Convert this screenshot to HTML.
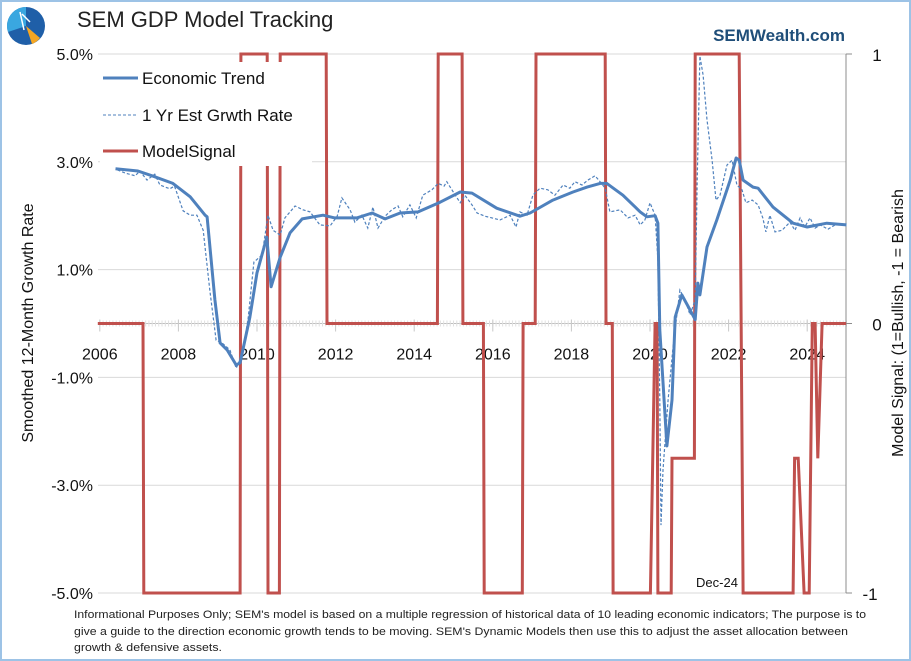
<!DOCTYPE html>
<html><head><meta charset="utf-8"><style>
html,body{margin:0;padding:0;background:#fff;}
svg{display:block;font-family:"Liberation Sans",sans-serif;}
</style></head><body>
<svg id="chart" width="911" height="661" viewBox="0 0 911 661" xmlns="http://www.w3.org/2000/svg">
<rect x="1" y="1" width="909" height="659" fill="#fff" stroke="#9dc3e6" stroke-width="2"/>
<g>
<circle cx="26" cy="26" r="19" fill="#1f5fa8"/>
<path d="M26 26 L26 7 A19 19 0 0 0 8 32 Z" fill="#3aa7e0"/>
<path d="M26 26 L40 38 A19 19 0 0 1 32 44 Z" fill="#f5a623"/>
<path d="M20 12 L24 30 M22 14 L30 22" stroke="#fff" stroke-width="1.5" fill="none"/>
</g>
<text x="77" y="27" font-size="22" fill="#222">SEM GDP Model Tracking</text>
<text x="845" y="41" font-size="17" font-weight="bold" fill="#1f4e79" text-anchor="end">SEMWealth.com</text>
<g id="grid"></g>
<g id="axes"></g>
<g id="series"></g>
<rect x="100" y="62" width="212" height="104" fill="#fff"/>
<g>
<line x1="103" y1="78" x2="138" y2="78" stroke="#4f81bd" stroke-width="3"/>
<text x="142" y="84" font-size="17" fill="#111">Economic Trend</text></g>
<g>
<line x1="103" y1="115" x2="138" y2="115" stroke="#4f81bd" stroke-width="1" stroke-dasharray="3,2"/>
<text x="142" y="121" font-size="17" fill="#111">1 Yr Est Grwth Rate</text></g>
<g>
<line x1="103" y1="151" x2="138" y2="151" stroke="#c0504d" stroke-width="3"/>
<text x="142" y="157" font-size="17" fill="#111">ModelSignal</text></g>
<text transform="translate(33,323) rotate(-90)" font-size="16" text-anchor="middle" fill="#111">Smoothed 12-Month Growth Rate</text>
<text transform="translate(903,323) rotate(-90)" font-size="16" text-anchor="middle" fill="#111">Model Signal: (1=Bullish, -1 = Bearish</text>
<text x="717" y="587" font-size="13" text-anchor="middle" fill="#111">Dec-24</text>
<g font-size="11" fill="#222">
<text x="74" y="618" textLength="792" lengthAdjust="spacingAndGlyphs">Informational Purposes Only; SEM's model is based on a multiple regression of historical data of 10 leading economic indicators; The purpose is to</text>
<text x="74" y="635" textLength="774" lengthAdjust="spacingAndGlyphs">give a guide to the direction economic growth tends to be moving. SEM's Dynamic Models then use this to adjust the asset allocation between</text>
<text x="74" y="651" textLength="148" lengthAdjust="spacingAndGlyphs">growth &amp; defensive assets.</text>
</g>
</svg>
<script>
const yTicks=[5,3,1,-1,-3,-5];
const yTickLabels=["5.0%","3.0%","1.0%","-1.0%","-3.0%","-5.0%"];
const xYears=[2006,2008,2010,2012,2014,2016,2018,2020,2022,2024];
const rTicks=[1,0,-1];
const trendT=[2006.4,2006.97,2007.33,2007.86,2008.3,2008.68,2008.73,2008.93,2009.06,2009.24,2009.47,2009.57,2009.82,2010.0,2010.25,2010.36,2010.59,2010.84,2011.15,2011.68,2011.98,2012.54,2012.93,2013.26,2013.64,2014.1,2014.66,2015.17,2015.47,2016.1,2016.69,2016.95,2017.53,2018.04,2018.4,2018.73,2018.9,2019.31,2019.75,2019.92,2020.13,2020.2,2020.25,2020.43,2020.56,2020.64,2020.81,2021.02,2021.15,2021.22,2021.27,2021.45,2021.7,2022.04,2022.19,2022.27,2022.37,2022.62,2022.75,2023.13,2023.64,2024.0,2024.5,2025.0];
const trendV=[2.87,2.83,2.74,2.6,2.35,2.01,1.98,0.44,-0.36,-0.49,-0.77,-0.73,0.12,0.94,1.6,0.68,1.23,1.68,1.94,2.01,1.96,1.96,2.05,1.94,2.05,2.07,2.25,2.44,2.42,2.14,1.99,2.05,2.29,2.44,2.53,2.6,2.6,2.38,2.07,1.98,2.0,1.86,-0.12,-2.27,-1.42,0.12,0.53,0.25,0.07,0.75,0.53,1.42,1.92,2.66,3.07,3.03,2.66,2.53,2.51,2.16,1.86,1.79,1.86,1.83];
const estT=[2006.45,2006.65,2006.9,2007.02,2007.2,2007.4,2007.53,2007.78,2007.9,2008.12,2008.3,2008.47,2008.63,2008.8,2008.96,2009.11,2009.31,2009.47,2009.62,2009.77,2009.92,2010.13,2010.28,2010.41,2010.59,2010.71,2010.97,2011.17,2011.35,2011.6,2011.86,2012.04,2012.16,2012.37,2012.49,2012.67,2012.82,2012.95,2013.08,2013.26,2013.43,2013.59,2013.71,2013.89,2014.05,2014.22,2014.45,2014.61,2014.76,2014.83,2014.96,2015.17,2015.29,2015.47,2015.6,2015.8,2015.98,2016.18,2016.44,2016.59,2016.69,2016.87,2017.02,2017.2,2017.4,2017.58,2017.79,2017.96,2018.09,2018.27,2018.42,2018.6,2018.73,2018.86,2018.98,2019.24,2019.44,2019.62,2019.75,2019.87,2020.0,2020.13,2020.2,2020.25,2020.28,2020.33,2020.46,2020.59,2020.76,2020.89,2021.02,2021.15,2021.2,2021.27,2021.35,2021.45,2021.58,2021.68,2021.78,2021.96,2022.09,2022.21,2022.34,2022.44,2022.6,2022.75,2022.87,2022.95,2023.05,2023.18,2023.36,2023.56,2023.69,2023.82,2023.94,2024.07,2024.2,2024.33,2024.53,2024.71,2025.0];
const estV=[2.85,2.79,2.74,2.83,2.66,2.77,2.57,2.5,2.55,2.09,2.01,2.01,1.73,0.62,-0.31,-0.36,-0.49,-0.83,-0.58,0.07,1.14,1.27,2.01,1.73,1.64,1.96,2.18,2.11,2.07,1.83,1.81,1.99,2.33,2.11,1.88,2.01,1.77,2.16,1.77,1.99,2.11,2.18,1.98,2.2,1.96,2.38,2.48,2.6,2.55,2.63,2.48,2.24,2.38,2.2,2.05,1.99,1.96,1.92,2.01,1.79,2.07,2.01,2.38,2.51,2.48,2.38,2.57,2.51,2.63,2.57,2.66,2.74,2.63,2.51,2.07,2.11,1.96,2.01,1.83,1.92,2.24,2.01,1.18,-1.42,-3.74,-2.72,-1.42,-0.4,0.62,0.44,0.16,0.44,2.66,4.96,4.61,3.78,3.03,2.29,2.38,2.94,3.03,2.57,2.48,2.24,2.29,2.2,1.96,1.7,2.01,1.7,1.73,1.88,1.73,1.96,1.79,1.96,1.77,1.83,1.75,1.83,1.83];
const sigT=[2005.95,2007.1,2007.12,2009.57,2009.59,2010.26,2010.28,2010.57,2010.59,2011.76,2011.78,2014.59,2014.61,2015.22,2015.24,2015.76,2015.78,2016.75,2016.77,2017.08,2017.1,2018.86,2018.88,2019.04,2019.06,2020.01,2020.13,2020.18,2020.2,2020.54,2020.56,2021.13,2021.15,2022.27,2022.37,2023.64,2023.68,2023.77,2023.92,2024.05,2024.13,2024.2,2024.27,2024.38,2024.99];
const sigV=[0,0,-1,-1,1,1,-1,-1,1,1,0,0,1,1,0,0,-1,-1,0,0,1,1,0,0,-1,-1,0,0,-1,-1,-0.5,-0.5,1,1,-1,-1,-0.5,-0.5,-1,-1,0,0,-0.5,0,0];

const X0=98,X1=846,Y5=54,YM5=593;
function x(t){return 257+(t-2010)*39.3;}
function y(v){return Y5+(5-v)*(YM5-Y5)/10;}
function yr(s){return Y5+(1-s)*(YM5-Y5)/2;}
const NS="http://www.w3.org/2000/svg";
function mk(tag,attrs,parent){const e=document.createElementNS(NS,tag);for(const k in attrs)e.setAttribute(k,attrs[k]);parent.appendChild(e);return e;}
const grid=document.getElementById('grid'),axes=document.getElementById('axes'),series=document.getElementById('series');
yTicks.forEach((v,i)=>{
  const l=mk('line',{x1:X0,x2:X1,y1:y(v),y2:y(v),stroke:'#d9d9d9','stroke-width':1},grid);
  
  
  const t=mk('text',{x:93,y:y(v)+6,'font-size':16,'text-anchor':'end',fill:'#111'},axes);
  t.textContent=yTickLabels[i];
  
  
});
const za=mk('line',{x1:X0,x2:X1,y1:y(0),y2:y(0),stroke:'#bfbfbf','stroke-width':1},axes);


for(let t=2006;t<2025;t+=1/12){
  const m=mk('line',{x1:x(t),x2:x(t),y1:y(0)-3,y2:y(0)+3,stroke:'#e0e0e0','stroke-width':1},axes);
  
  
}
xYears.forEach(yy=>{
  const m=mk('line',{x1:x(yy),x2:x(yy),y1:y(0)-4,y2:y(0)+8,stroke:'#c8c8c8','stroke-width':1},axes);
  
  
  const t=mk('text',{x:x(yy),y:y(0)+36,'font-size':16,'text-anchor':'middle',fill:'#111'},axes);
  t.textContent=yy;
  
  
});
const ra=mk('line',{x1:X1,x2:X1,y1:Y5,y2:YM5,stroke:'#8c8c8c','stroke-width':1},axes);


rTicks.forEach(s=>{
  const m=mk('line',{x1:X1,x2:X1+6,y1:yr(s),y2:yr(s),stroke:'#8c8c8c','stroke-width':1},axes);
  
  
  const t=mk('text',{x:s<0?870:877,y:yr(s)+7,'font-size':17,'text-anchor':'middle',fill:'#111'},axes);
  t.textContent=s;
  
  
});
function pts(T,V,f){return T.map((t,i)=>x(t).toFixed(1)+','+f(V[i]).toFixed(1)).join(' ');}
const sig=mk('polyline',{points:pts(sigT,sigV,yr),fill:'none',stroke:'#c0504d','stroke-width':3,'stroke-linejoin':'miter'},series);


const est=mk('polyline',{points:pts(estT,estV,y),fill:'none',stroke:'#4f81bd','stroke-width':1.2,'stroke-dasharray':'3,2'},series);


const tr=mk('polyline',{points:pts(trendT,trendV,y),fill:'none',stroke:'#4f81bd','stroke-width':3,'stroke-linejoin':'round'},series);


</script>
</body></html>
